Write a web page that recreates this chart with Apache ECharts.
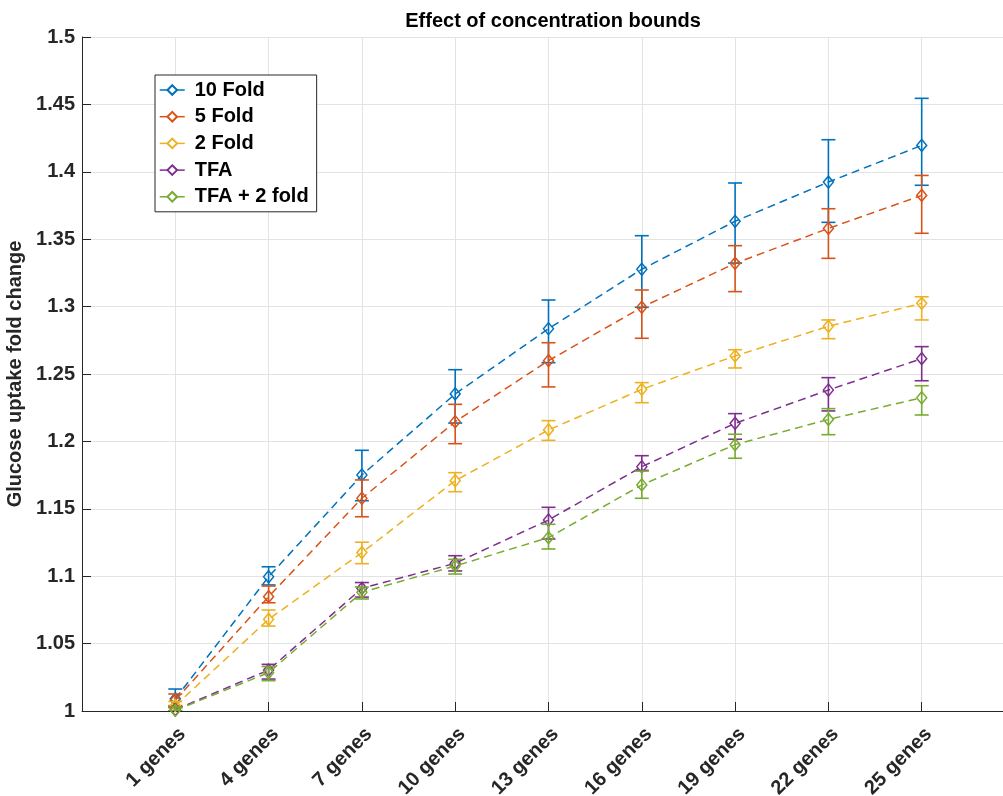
<!DOCTYPE html>
<html>
<head>
<meta charset="utf-8">
<script src="https://cdn.jsdelivr.net/npm/echarts@6/dist/echarts.min.js"></script>
<style>
html,body{margin:0;padding:0;background:#fff;}
#chart{width:1003px;height:796px;}
</style>
</head>
<body>
<div id="chart"></div>
<script>
const categories = ['1 genes','4 genes','7 genes','10 genes','13 genes','16 genes','19 genes','22 genes','25 genes'];
const seriesNames = ['10 Fold','5 Fold','2 Fold','TFA','TFA + 2 fold'];

const fold10     = [1.009, 1.0996, 1.1751, 1.2352, 1.2836, 1.3277, 1.3633, 1.3924, 1.4196];
const fold10Low  = [1.003, 1.0935, 1.1560, 1.2136, 1.2584, 1.2995, 1.3323, 1.3625, 1.3900];
const fold10High = [1.0163, 1.1070, 1.1934, 1.2532, 1.3049, 1.3526, 1.3917, 1.4238, 1.4545];

const fold5      = [1.008, 1.0848, 1.1578, 1.2146, 1.2599, 1.2995, 1.3321, 1.3580, 1.3825];
const fold5Low   = [1.004, 1.0803, 1.1441, 1.1983, 1.2404, 1.2765, 1.3111, 1.3358, 1.3544];
const fold5High  = [1.0126, 1.0927, 1.1714, 1.2275, 1.2732, 1.3123, 1.3452, 1.3726, 1.3973];

const fold2      = [1.004, 1.0680, 1.1175, 1.1709, 1.2085, 1.2386, 1.2634, 1.2854, 1.3024];
const fold2Low   = [1.002, 1.0630, 1.1093, 1.1627, 1.2008, 1.2287, 1.2545, 1.2762, 1.2901];
const fold2High  = [1.007, 1.0749, 1.1252, 1.1768, 1.2154, 1.2436, 1.2680, 1.2901, 1.3073];

const tfa        = [1.001, 1.0304, 1.0910, 1.1096, 1.1417, 1.1812, 1.2134, 1.2381, 1.2614];
const tfaLow     = [1.000, 1.0237, 1.0845, 1.1039, 1.1276, 1.1785, 1.2016, 1.2226, 1.2450];
const tfaHigh    = [1.003, 1.0346, 1.0953, 1.1152, 1.1511, 1.1894, 1.2206, 1.2473, 1.2703];

const tfa2       = [1.0005, 1.0284, 1.0881, 1.1076, 1.1286, 1.1677, 1.1976, 1.2163, 1.2324];
const tfa2Low    = [1.000, 1.0225, 1.0831, 1.1016, 1.1202, 1.1578, 1.1875, 1.2050, 1.2196];
const tfa2High   = [1.003, 1.0330, 1.0920, 1.1125, 1.1385, 1.1780, 1.2053, 1.2243, 1.2413];

const colors = ['#0072BD','#D95319','#EDB120','#7E2F8E','#77AC30'];
const means = [fold10, fold5, fold2, tfa, tfa2];
const lows = [fold10Low, fold5Low, fold2Low, tfaLow, tfa2Low];
const highs = [fold10High, fold5High, fold2High, tfaHigh, tfa2High];

const FONT = '"Liberation Sans", Arial, Helvetica, sans-serif';
const AXC = '#262626';

const series = [];
seriesNames.forEach((name, k) => {
  const color = colors[k];
  series.push({
    name: name,
    type: 'line',
    data: means[k].map((v, i) => [i + 1, v]),
    symbol: 'diamond',
    symbolSize: [10, 12],
    showSymbol: true,
    lineStyle: { color: color, width: 1.5, type: [8, 5] },
    itemStyle: { color: 'rgba(0,0,0,0)', borderColor: color, borderWidth: 1.5 },
    emphasis: { disabled: true },
    z: 2 + k * 2
  });
  series.push({
    name: name + ' err',
    type: 'custom',
    data: means[k].map((v, i) => [i + 1, lows[k][i], highs[k][i]]),
    encode: { x: 0, y: [1, 2] },
    clip: true,
    z: 3 + k * 2,
    renderItem: function (params, api) {
      const x = api.value(0);
      const pLo = api.coord([x, api.value(1)]);
      const pHi = api.coord([x, api.value(2)]);
      const hw = 7;
      const st = { stroke: color, lineWidth: 1.6, fill: null };
      return {
        type: 'group',
        children: [
          { type: 'line', shape: { x1: pLo[0], y1: pLo[1], x2: pHi[0], y2: pHi[1] }, style: st },
          { type: 'line', shape: { x1: pLo[0] - hw, y1: pLo[1], x2: pLo[0] + hw, y2: pLo[1] }, style: st },
          { type: 'line', shape: { x1: pHi[0] - hw, y1: pHi[1], x2: pHi[0] + hw, y2: pHi[1] }, style: st }
        ]
      };
    }
  });
});

const chart = echarts.init(document.getElementById('chart'), null, { renderer: 'canvas' });
chart.setOption({
  animation: false,
  backgroundColor: '#fff',
  title: {
    text: 'Effect of concentration bounds',
    left: 548,
    textAlign: 'center',
    top: 6,
    textStyle: { fontFamily: FONT, fontWeight: 'bold', fontSize: 20, color: '#000' }
  },
  grid: { left: 82, top: 37, right: -12, bottom: 85, containLabel: false, outerBoundsMode: 'none' },
  legend: {
    data: seriesNames,
    orient: 'vertical',
    left: 155,
    top: 75,
    padding: [5, 8, 5, 4],
    itemWidth: 25,
    itemHeight: 12,
    itemGap: 6.7,
    backgroundColor: '#fff',
    borderColor: AXC,
    borderWidth: 1,
    borderRadius: 0,
    lineStyle: { type: 'solid', width: 1.5 },
    itemStyle: { color: '#fff' },
    textStyle: { fontFamily: FONT, fontWeight: 'bold', fontSize: 20, color: '#000', lineHeight: 20, padding: [0, 0, 0, 5] },
    selectedMode: false
  },
  xAxis: {
    type: 'value',
    min: 0,
    max: 10,
    interval: 1,
    axisLine: { show: true, lineStyle: { color: AXC, width: 1 } },
    axisTick: { show: true, inside: true, length: 9, lineStyle: { color: AXC } },
    splitLine: { show: true, lineStyle: { color: '#e3e3e3', width: 1 } },
    axisLabel: {
      rotate: 45,
      margin: 13,
      verticalAlign: 'top',
      fontFamily: FONT,
      fontWeight: 'bold',
      fontSize: 20,
      color: AXC,
      formatter: function (v) { return categories[v - 1] || ''; }
    }
  },
  yAxis: {
    type: 'value',
    min: 1,
    max: 1.5,
    interval: 0.05,
    name: 'Glucose uptake fold change',
    nameLocation: 'middle',
    nameRotate: 90,
    nameGap: 47,
    nameTextStyle: { fontFamily: FONT, fontWeight: 'bold', fontSize: 20, color: AXC },
    axisLine: { show: true, lineStyle: { color: AXC, width: 1 } },
    axisTick: { show: true, inside: true, length: 9, lineStyle: { color: AXC } },
    splitLine: { show: true, lineStyle: { color: '#e3e3e3', width: 1 } },
    axisLabel: {
      margin: 7,
      fontFamily: FONT,
      fontWeight: 'bold',
      fontSize: 20,
      color: AXC,
      formatter: function (v) { return String(Math.round(v * 100) / 100); }
    }
  },
  series: series
});
</script>
</body>
</html>
